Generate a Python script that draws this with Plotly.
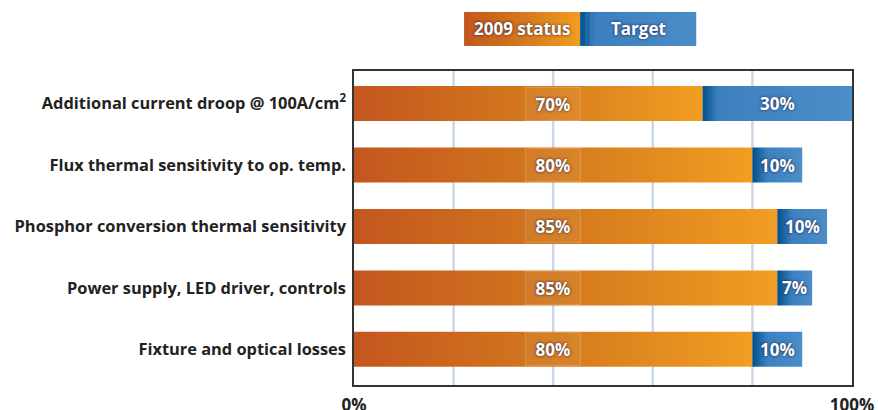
import plotly.graph_objects as go

categories = [
    "Additional current droop @ 100A/cm<sup>2</sup>",
    "Flux thermal sensitivity to op. temp.",
    "Phosphor conversion thermal sensitivity",
    "Power supply, LED driver, controls",
    "Fixture and optical losses",
]
status_2009 = [70, 80, 85, 85, 80]
target = [30, 10, 10, 7, 10]
x_ticks = [0, 100]
x_tick_labels = ["0%", "100%"]
legend_names = ["2009 status", "Target"]

FONT = "Liberation Sans Narrow, Open Sans, sans-serif"
half = 0.285
orange_scale = [[0, "#c4561f"], [0.5, "#d3791d"], [1, "#f29d22"]]

fig = go.Figure()

for i, (s, t) in enumerate(zip(status_2009, target)):
    y0, y1 = i - half, i + half
    fig.add_trace(go.Scatter(
        x=[0, s, s, 0, 0], y=[y0, y0, y1, y1, y0],
        fill="toself", mode="lines", line=dict(width=0),
        fillgradient=dict(type="horizontal", colorscale=orange_scale),
        hoverinfo="skip", showlegend=False,
    ))
    d = min(0.45, 3.0 / t)
    blue_scale = [[0, "#004f8b"], [d, "#3d80bf"], [1, "#4b8dc8"]]
    fig.add_trace(go.Scatter(
        x=[s, s + t, s + t, s, s], y=[y0, y0, y1, y1, y0],
        fill="toself", mode="lines", line=dict(width=0),
        fillgradient=dict(type="horizontal", colorscale=blue_scale),
        hoverinfo="skip", showlegend=False,
    ))

shadow = "0px 0px 3px rgba(20,20,60,0.9)"
label_font = dict(family=FONT, size=17, color="white", weight="bold", shadow=shadow)

for i, (s, t) in enumerate(zip(status_2009, target)):
    fig.add_annotation(
        x=40, y=i, text=f"{s}%", showarrow=False, font=label_font,
        bgcolor="rgba(255,255,255,0.06)", bordercolor="rgba(255,255,255,0.18)",
        borderwidth=1, width=52, height=30,
    )
    fig.add_annotation(
        x=s + t / 2, y=i, text=f"{t}%", showarrow=False, font=label_font,
    )

# legend boxes (gradient by thin slices)
def hexrgb(h):
    h = h.lstrip("#")
    return tuple(int(h[k:k + 2], 16) for k in (0, 2, 4))

def interp(scale, f):
    for (a, ca), (b, cb) in zip(scale[:-1], scale[1:]):
        if a <= f <= b:
            u = (f - a) / (b - a) if b > a else 0
            A, B = hexrgb(ca), hexrgb(cb)
            return "rgb(%d,%d,%d)" % tuple(A[k] + (B[k] - A[k]) * u for k in range(3))
    return scale[-1][1]

leg_y0, leg_y1 = 1.080, 1.188
leg_boxes = [(0.221, 0.454, orange_scale),
             (0.454, 0.687, [[0, "#004f8b"], [0.12, "#3d80bf"], [1, "#4b8dc8"]])]
n = 24
for (xa, xb, sc) in leg_boxes:
    step = (xb - xa) / n
    for k in range(n):
        fa = xa + step * k
        fb = min(xb, fa + step * 2)
        fig.add_shape(type="rect", xref="paper", yref="paper", layer="below",
                      x0=fa, x1=fb, y0=leg_y0, y1=leg_y1,
                      fillcolor=interp(sc, (k + 0.5) / n), line=dict(width=0))
for name, (xa, xb, sc) in zip(legend_names, leg_boxes):
    fig.add_annotation(xref="paper", yref="paper", x=(xa + xb) / 2,
                       y=(leg_y0 + leg_y1) / 2, yanchor="middle", xanchor="center",
                       text=name, showarrow=False, font=label_font)

fig.update_layout(
    width=878, height=410,
    margin=dict(l=354, r=26, t=71, b=25),
    plot_bgcolor="white", paper_bgcolor="white",
    showlegend=False,
    xaxis=dict(
        range=[0, 100], tickvals=x_ticks, ticktext=x_tick_labels,
        showgrid=False, zeroline=False, automargin=False,
        showline=True, mirror=True, linecolor="#333333", linewidth=1.5,
        ticks="outside", ticklen=4, tickcolor="rgba(0,0,0,0)",
        tickfont=dict(family=FONT, size=17, color="#222222", weight="bold"),
        fixedrange=True,
    ),
    yaxis=dict(
        range=[4.58, -0.53], tickvals=list(range(len(categories))),
        ticktext=categories, showgrid=False, zeroline=False, automargin=False,
        showline=True, mirror=True, linecolor="#333333", linewidth=1.5,
        ticks="outside", ticklen=3, tickcolor="rgba(0,0,0,0)",
        tickfont=dict(family=FONT, size=16.4, color="#222222", weight="bold"),
        fixedrange=True,
    ),
)

for g in [20, 40, 60, 80]:
    fig.add_vline(x=g, line=dict(color="#c9d7e8", width=2.5), layer="below")

fig.write_html(
    "out.html",
    config={"displayModeBar": False},
    post_script="document.body.style.margin='0px';document.body.style.overflow='hidden';",
)
